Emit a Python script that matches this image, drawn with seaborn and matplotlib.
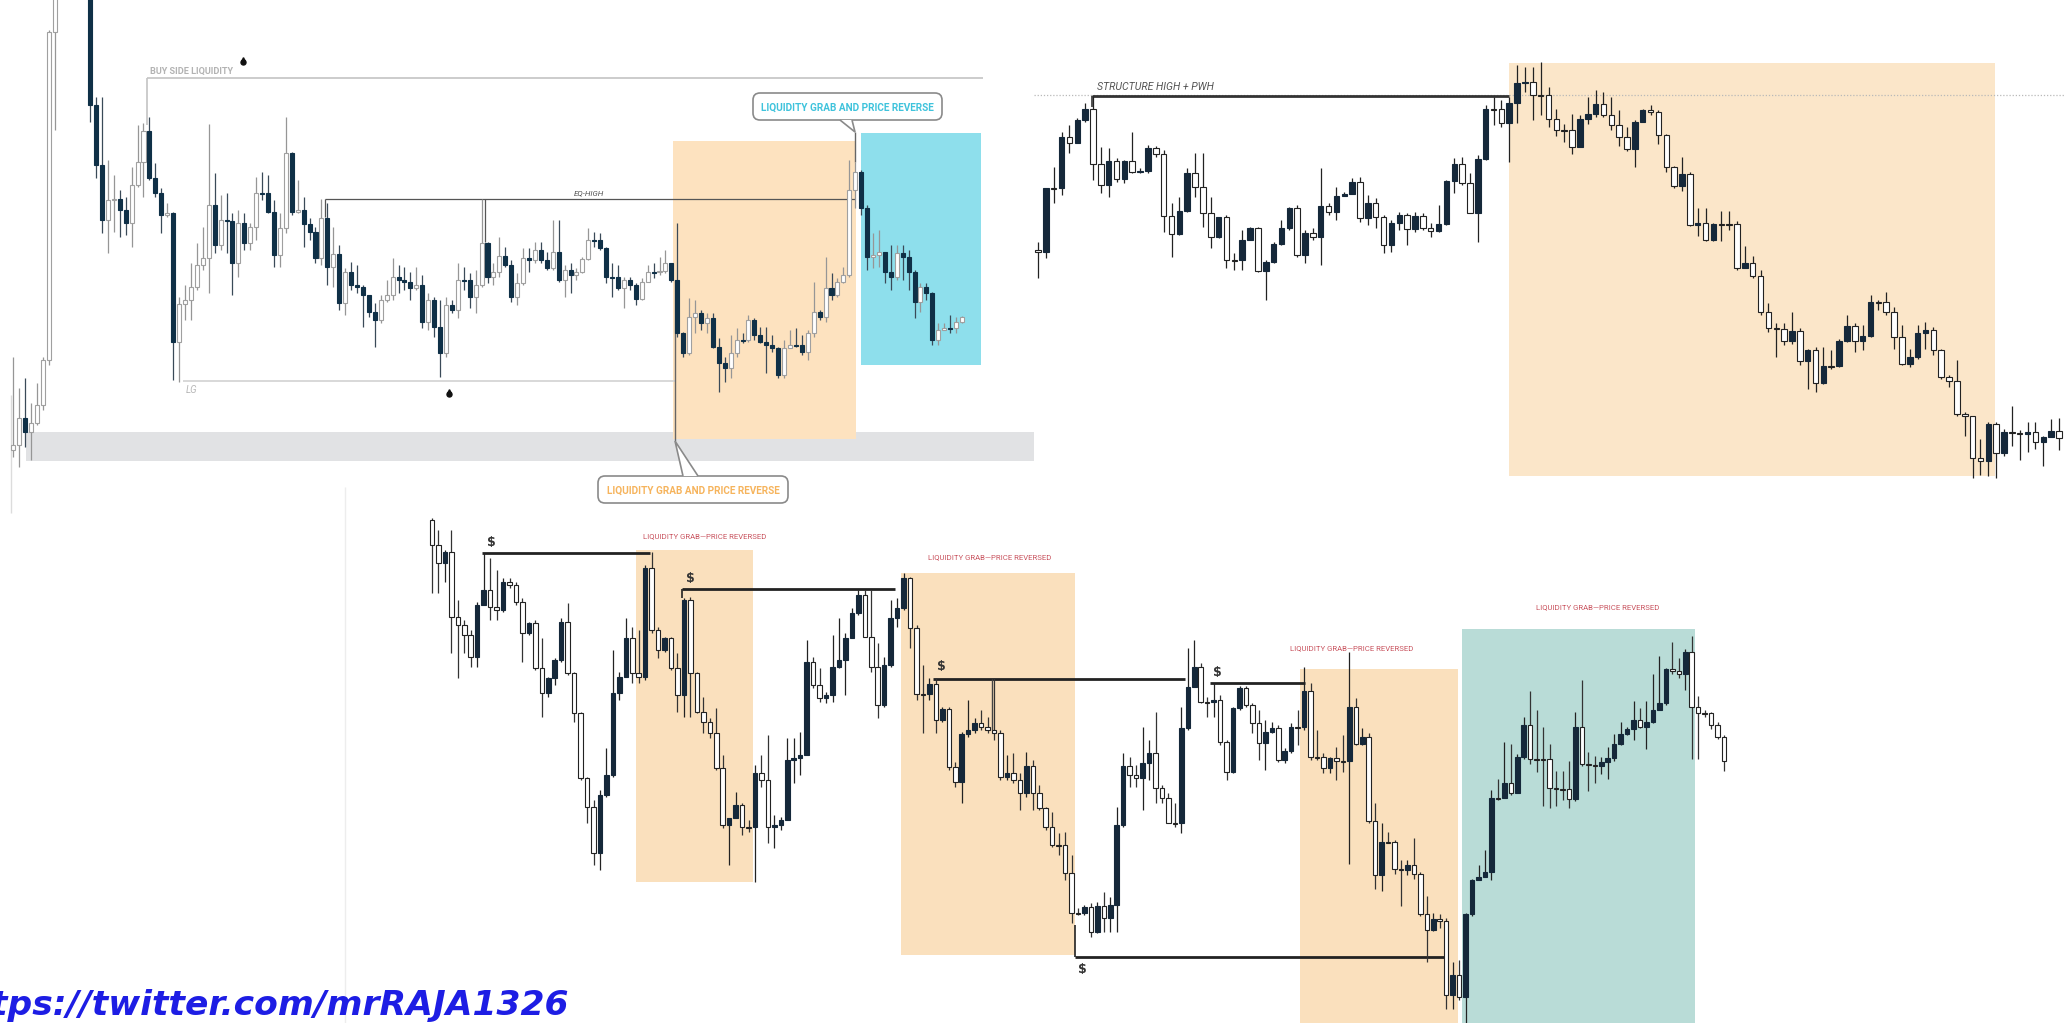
# ---------------------------------------------------------------------------
# Import Required Modules
# ---------------------------------------------------------------------------

import numpy as np
import seaborn as sns
import matplotlib.pyplot as plt
from matplotlib.patches import Rectangle, FancyBboxPatch, Polygon


# ---------------------------------------------------------------------------
# Data : candle closes / highs / lows (price read in picture units, y down)
# ---------------------------------------------------------------------------

# Panel 1 (top left, TradingView style)
p1_first_open = 450
p1_close = [445, 418, 432, 423, 405, 360, 32, -15, -60, -100,
            -80, -40, -30, 105, 165, 220, 200, 199, 210, 223,
            185, 162, 131, 178, 193, 215, 213, 342, 304, 300,
            287, 265, 258, 205, 245, 220, 221, 263, 223, 243,
            227, 193, 193, 212, 255, 228, 153, 212, 210, 224,
            232, 258, 218, 267, 254, 303, 272, 285, 287, 295,
            312, 320, 300, 295, 277, 280, 282, 288, 285, 322,
            300, 327, 353, 305, 310, 280, 280, 297, 285, 243,
            277, 272, 256, 265, 297, 283, 258, 260, 250, 260,
            268, 252, 280, 270, 275, 272, 259, 240, 240, 248,
            277, 277, 288, 280, 285, 299, 282, 272, 272, 271,
            263, 280, 333, 353, 317, 313, 323, 318, 347, 363,
            368, 353, 340, 340, 320, 335, 342, 345, 348, 375,
            348, 345, 345, 352, 333, 312, 317, 288, 295, 282,
            275, 190, 172, 208, 257, 255, 252, 272, 277, 253,
            257, 272, 302, 287, 293, 340, 330, 328, 328, 322,
            317]
p1_high = [357, 388, 378, 403, 383, 357, 30, -40, -80, -120,
           -100, -60, -50, -40, 97, 97, 160, 175, 190, 197,
           167, 125, 123, 117, 163, 188, 203, 212, 297, 285,
           263, 243, 227, 124, 173, 195, 193, 213, 210, 213,
           223, 177, 172, 175, 200, 213, 117, 152, 180, 197,
           218, 227, 199, 203, 227, 245, 268, 262, 265, 285,
           295, 303, 295, 280, 258, 265, 267, 272, 267, 275,
           293, 297, 300, 297, 300, 263, 267, 273, 270, 199,
           242, 263, 237, 247, 260, 273, 248, 248, 242, 242,
           252, 220, 220, 265, 263, 268, 257, 228, 232, 233,
           247, 263, 265, 277, 277, 283, 278, 265, 263, 257,
           250, 263, 223, 332, 298, 300, 310, 313, 313, 338,
           357, 335, 328, 333, 315, 318, 327, 327, 335, 347,
           340, 330, 328, 335, 330, 282, 310, 257, 273, 278,
           267, 160, 162, 170, 205, 233, 230, 252, 245, 245,
           245, 250, 270, 283, 283, 292, 323, 323, 315, 317,
           316]
p1_low = [457, 467, 447, 460, 425, 410, 365, 130, -40, -80,
          -60, -20, -10, 122, 178, 233, 253, 232, 237, 235,
          247, 187, 197, 180, 197, 233, 217, 380, 382, 320,
          320, 290, 270, 293, 253, 250, 253, 295, 277, 250,
          250, 240, 200, 213, 267, 267, 233, 215, 213, 247,
          240, 263, 265, 285, 287, 310, 315, 290, 293, 327,
          317, 347, 323, 302, 300, 293, 290, 300, 290, 328,
          330, 337, 377, 357, 313, 318, 290, 308, 313, 287,
          283, 285, 277, 267, 302, 305, 285, 272, 263, 263,
          270, 270, 282, 297, 293, 280, 273, 260, 247, 250,
          283, 297, 290, 308, 290, 305, 300, 282, 278, 275,
          273, 282, 337, 357, 355, 333, 330, 333, 348, 392,
          382, 378, 357, 343, 342, 340, 343, 373, 352, 378,
          378, 348, 347, 355, 360, 337, 320, 322, 300, 297,
          283, 277, 208, 215, 270, 268, 267, 283, 290, 280,
          280, 290, 318, 312, 300, 345, 345, 330, 333, 333,
          323]

# Panel 2 (top right, structure high + PWH)
p2_first_open = 250
p2_close = [252, 188, 188, 137, 143, 120, 109, 164, 185, 161,
            179, 161, 172, 171, 148, 154, 216, 234, 211, 173,
            187, 213, 237, 217, 260, 260, 240, 228, 271, 262,
            244, 228, 208, 255, 233, 237, 206, 212, 196, 194,
            182, 218, 203, 217, 245, 223, 215, 229, 216, 228,
            231, 224, 181, 164, 183, 213, 159, 109, 109, 123,
            103, 83, 82, 95, 95, 119, 130, 130, 147, 119,
            114, 104, 115, 125, 137, 149, 122, 110, 112, 135,
            167, 186, 174, 225, 223, 240, 224, 224, 224, 268,
            263, 276, 312, 328, 329, 341, 331, 361, 350, 383,
            366, 366, 341, 326, 341, 336, 302, 302, 312, 337,
            364, 357, 333, 330, 350, 377, 381, 414, 416, 458,
            461, 424, 453, 432, 433, 434, 432, 442, 437, 431,
            438]
p2_high = [242, 188, 167, 132, 125, 118, 103, 96, 147, 148,
           158, 160, 132, 168, 145, 146, 150, 203, 197, 168,
           153, 153, 197, 217, 215, 253, 230, 227, 227, 260,
           242, 220, 207, 205, 230, 228, 168, 203, 187, 192,
           178, 177, 195, 198, 215, 220, 212, 213, 212, 213,
           223, 205, 180, 158, 157, 173, 155, 105, 97, 100,
           97, 65, 67, 67, 62, 87, 109, 124, 114, 115,
           97, 90, 92, 97, 110, 127, 120, 109, 105, 110,
           134, 166, 157, 172, 208, 208, 223, 211, 211, 221,
           246, 256, 270, 303, 323, 323, 312, 328, 349, 347,
           347, 350, 339, 315, 323, 325, 295, 300, 292, 307,
           325, 349, 325, 322, 327, 349, 375, 360, 412, 416,
           439, 422, 422, 429, 406, 430, 422, 422, 436, 419,
           418]
p2_low = [278, 258, 203, 195, 153, 143, 122, 180, 193, 197,
          182, 183, 173, 173, 173, 157, 232, 257, 235, 212,
          197, 227, 248, 238, 268, 270, 270, 240, 272, 300,
          263, 245, 230, 257, 263, 240, 265, 215, 220, 195,
          192, 222, 225, 228, 253, 252, 230, 245, 232, 230,
          237, 232, 225, 193, 185, 213, 242, 160, 125, 127,
          162, 123, 92, 120, 115, 127, 136, 142, 154, 147,
          124, 117, 117, 130, 146, 151, 167, 122, 115, 144,
          172, 188, 191, 226, 236, 241, 241, 241, 230, 270,
          268, 278, 315, 332, 357, 345, 344, 365, 389, 392,
          384, 369, 367, 342, 352, 350, 337, 310, 315, 349,
          365, 367, 359, 349, 355, 379, 387, 416, 436, 478,
          475, 476, 478, 456, 446, 460, 452, 449, 466, 434,
          450]

# Panel 3 (bottom, liquidity grabs)
p3_first_open = 520
p3_close = [545, 563, 552, 617, 625, 635, 657, 605, 590, 607,
            610, 582, 585, 602, 633, 623, 668, 693, 678, 660,
            622, 673, 713, 778, 807, 853, 795, 775, 693, 677,
            638, 673, 677, 568, 630, 650, 638, 668, 695, 600,
            673, 712, 722, 733, 768, 825, 818, 805, 827, 827,
            773, 780, 827, 825, 820, 760, 758, 755, 662, 685,
            698, 695, 667, 660, 638, 613, 595, 637, 667, 705,
            665, 618, 608, 578, 628, 694, 694, 684, 720, 709,
            767, 782, 734, 730, 723, 727, 730, 733, 777, 773,
            780, 793, 766, 793, 808, 827, 845, 845, 873, 913,
            913, 907, 932, 906, 918, 905, 825, 766, 775, 778,
            763, 753, 788, 798, 823, 823, 728, 687, 667, 702,
            702, 700, 742, 772, 708, 688, 705, 723, 743, 732,
            728, 760, 751, 727, 727, 691, 757, 757, 768, 758,
            761, 761, 707, 744, 737, 821, 875, 842, 842, 869,
            870, 865, 874, 914, 930, 919, 921, 995, 975, 997,
            914, 880, 877, 872, 798, 798, 783, 793, 757, 725,
            759, 759, 759, 788, 789, 789, 799, 727, 764, 765,
            766, 762, 758, 744, 734, 729, 720, 727, 722, 710,
            703, 669, 671, 674, 652, 707, 713, 713, 725, 737,
            761]
p3_high = [518, 530, 550, 530, 600, 620, 630, 602, 553, 558,
           570, 578, 578, 582, 598, 622, 620, 638, 677, 658,
           618, 603, 672, 712, 777, 800, 790, 748, 650, 672,
           618, 627, 630, 565, 552, 627, 637, 637, 653, 598,
           597, 672, 697, 718, 708, 755, 818, 792, 803, 820,
           765, 755, 735, 815, 817, 738, 738, 732, 640, 657,
           668, 692, 635, 618, 633, 608, 590, 590, 590, 643,
           657, 600, 598, 573, 577, 625, 665, 678, 678, 707,
           707, 762, 732, 700, 718, 710, 717, 678, 730, 755,
           753, 773, 752, 760, 785, 807, 812, 833, 832, 855,
           908, 905, 903, 902, 892, 897, 807, 753, 757, 765,
           727, 740, 712, 785, 793, 803, 707, 648, 640, 663,
           697, 683, 695, 740, 707, 686, 686, 703, 710, 720,
           722, 725, 748, 723, 710, 667, 683, 730, 753, 757,
           747, 735, 652, 698, 728, 733, 803, 823, 832, 840,
           860, 860, 838, 872, 896, 913, 914, 918, 962, 960,
           913, 879, 865, 850, 790, 779, 742, 744, 754, 717,
           691, 710, 727, 744, 771, 771, 761, 712, 680, 752,
           756, 757, 747, 734, 722, 727, 701, 708, 701, 674,
           656, 668, 642, 658, 649, 636, 696, 710, 712, 722,
           735]
p3_low = [593, 593, 582, 653, 678, 653, 667, 667, 605, 620,
          620, 612, 588, 605, 662, 635, 670, 717, 697, 685,
          662, 675, 722, 780, 823, 865, 870, 797, 777, 700,
          677, 683, 683, 680, 633, 658, 652, 670, 712, 717,
          717, 713, 733, 738, 770, 828, 865, 818, 835, 832,
          882, 787, 843, 848, 830, 820, 783, 775, 755, 688,
          702, 703, 702, 668, 695, 638, 615, 637, 672, 718,
          707, 667, 627, 610, 648, 700, 733, 700, 733, 722,
          770, 787, 803, 737, 733, 730, 733, 740, 780, 780,
          783, 810, 797, 810, 810, 830, 847, 855, 880, 923,
          915, 915, 937, 933, 932, 932, 932, 827, 787, 787,
          810, 780, 803, 803, 823, 827, 833, 730, 687, 703,
          717, 717, 745, 780, 773, 710, 707, 733, 760, 770,
          733, 762, 763, 753, 745, 730, 760, 760, 773, 773,
          780, 772, 864, 745, 745, 823, 889, 891, 843, 874,
          906, 875, 879, 916, 962, 931, 928, 1009, 1009, 1000,
          1029, 916, 879, 874, 880, 800, 793, 795, 793, 759,
          764, 772, 806, 808, 806, 800, 808, 801, 766, 791,
          783, 774, 779, 761, 745, 735, 740, 728, 749, 723,
          705, 705, 674, 678, 690, 759, 759, 717, 729, 739,
          771]

# Text labels
label_bsl = "BUY SIDE LIQUIDITY"
label_eq = "EQ-HIGH"
label_lg = "LG"
label_grab = "LIQUIDITY GRAB AND PRICE REVERSE"
label_struct = "STRUCTURE HIGH + PWH"
label_reversed = "LIQUIDITY GRAB\u2014PRICE REVERSED"
label_url = "https://twitter.com/mrRAJA1326"


# ---------------------------------------------------------------------------
# Function: [ Draw Candles ]
# ---------------------------------------------------------------------------

def draw_candles(ax, x_first, x_last, first_open, closes, highs, lows,
                 rise_fill, rise_edge, fall_fill, fall_edge, rise_wick, fall_wick,
                 width_frac=0.68):

    closes = np.array(closes, dtype=float)
    opens = np.concatenate([[first_open], closes[:-1]])
    xs = np.linspace(x_first, x_last, len(closes))
    step = xs[1] - xs[0]

    highs = np.minimum(np.array(highs, dtype=float), np.minimum(opens, closes))
    lows = np.maximum(np.array(lows, dtype=float), np.maximum(opens, closes))

    rising = closes < opens          # y grows downward on the picture

    wick_cols = np.where(rising, rise_wick, fall_wick)
    ax.vlines(xs, highs, lows, colors=wick_cols, linewidth=0.9, zorder=3)

    bottom = np.minimum(opens, closes)
    height = np.maximum(np.abs(opens - closes), 1.3)

    fills = np.where(rising, rise_fill, fall_fill)
    edges = np.where(rising, rise_edge, fall_edge)

    ax.bar(xs, height, bottom=bottom, width=step * width_frac, color=fills,
           edgecolor=edges, linewidth=0.8, zorder=4, align="center")


def droplet(ax, x, y):

    ax.plot([x], [y], marker="o", ms=3.6, color="#111111", zorder=6)
    ax.plot([x], [y - 3], marker="^", ms=2.6, color="#111111", zorder=6)


def callout(ax, x0, y0, x1, y1, text, color, tip, base):

    box = FancyBboxPatch((x0, y0), x1 - x0, y1 - y0,
                         boxstyle="round,pad=0,rounding_size=7",
                         facecolor="white", edgecolor="#8a8a8a", linewidth=1.2, zorder=7)
    ax.add_patch(box)

    tri = Polygon([base[0], tip, base[1]], closed=False, facecolor="white",
                  edgecolor="#8a8a8a", linewidth=1.2, zorder=7)
    ax.add_patch(tri)

    ax.text((x0 + x1) / 2, (y0 + y1) / 2 + 1, text, color=color, fontsize=7.2,
            fontweight="bold", ha="center", va="center", zorder=8)


# ---------------------------------------------------------------------------
# Main Plot
# ---------------------------------------------------------------------------

sns.set_theme(style="white")
plt.rcParams["font.family"] = ["Roboto", "DejaVu Sans"]

fig = plt.figure(figsize=(20.65, 10.23), dpi=100)
ax = fig.add_axes([0, 0, 1, 1])
ax.set_xlim(0, 2065)
ax.set_ylim(1023, 0)
ax.axis("off")


# Background zones :
# ------------------

zones = [
    (26, 432, 1034, 461, "#e1e2e4"),
    (673, 141, 856, 439, "#fde2bf"),
    (861, 133, 981, 365, "#8edfec"),
    (1509, 63, 1995, 476, "#fbe6c9"),
    (636, 550, 753, 882, "#fae0bd"),
    (901, 573, 1075, 955, "#fae0bd"),
    (1300, 669, 1458, 1023, "#fae0bd"),
    (1462, 629, 1695, 1023, "#b9dcd7"),
]

for x0, y0, x1, y1, col in zones:
    ax.add_patch(Rectangle((x0, y0), x1 - x0, y1 - y0, facecolor=col,
                           edgecolor="none", zorder=1))

# faint separators
ax.vlines(345, 487, 1023, color="#ededed", linewidth=1.0, zorder=0)
ax.vlines(11, 395, 513, color="#dcdcdc", linewidth=1.0, zorder=0)


# Panel 1 :
# ---------

ax.hlines(78, 147, 983, color="#c4c4c4", linewidth=1.2, zorder=2)
ax.vlines(147, 78, 125, color="#c4c4c4", linewidth=1.2, zorder=2)
ax.hlines(381, 183, 675, color="#d2d2d2", linewidth=1.2, zorder=2)
ax.hlines(199, 325, 855, color="#555555", linewidth=0.9, zorder=2)
ax.vlines([325, 485], 199, [217, 242], color="#555555", linewidth=0.9, zorder=2)
ax.vlines(675, 280, 441, color="#666666", linewidth=1.0, zorder=2)
ax.vlines(855, 132, 162, color="#666666", linewidth=1.0, zorder=2)

draw_candles(ax, 13, 962, p1_first_open, p1_close, p1_high, p1_low,
             rise_fill="white", rise_edge="#a0a0a0",
             fall_fill="#0f3047", fall_edge="#0f3047",
             rise_wick="#969696", fall_wick="#3a4a58")

ax.text(150, 74, label_bsl, color="#b3b3b3", fontsize=6.6, fontweight="bold",
        ha="left", va="baseline", zorder=6)
droplet(ax, 243, 62)
ax.text(589, 195, label_eq, color="#555555", fontsize=5.8, style="italic",
        ha="center", va="baseline", zorder=6)
ax.text(186, 393, label_lg, color="#b8b8b8", fontsize=7, style="italic",
        ha="left", va="baseline", zorder=6)
droplet(ax, 449, 394)

callout(ax, 753, 93, 942, 120, label_grab, "#3fc3dc",
        tip=(855, 132), base=[(840, 120), (852, 120)])
callout(ax, 598, 476, 788, 503, label_grab, "#f6b45d",
        tip=(675, 441), base=[(683, 476), (698, 476)])


# Panel 2 :
# ---------

ax.hlines(95, 1034, 2065, color="#b9b9b9", linewidth=0.9, linestyle=(0, (1, 1.5)), zorder=2)
ax.hlines(96, 1092, 1509, color="#333333", linewidth=2.0, zorder=3)
ax.vlines(1092, 96, 107, color="#333333", linewidth=1.2, zorder=3)

draw_candles(ax, 1038, 2059, p2_first_open, p2_close, p2_high, p2_low,
             rise_fill="#15283a", rise_edge="#15283a",
             fall_fill="white", fall_edge="#222222",
             rise_wick="#222222", fall_wick="#222222", width_frac=0.7)

ax.text(1097, 90, label_struct, color="#555555", fontsize=7.6, style="italic",
        ha="left", va="baseline", zorder=6)


# Panel 3 :
# ---------

levels = [
    (553, 482, 650, 491, 546),
    (589, 682, 895, 690, 582),
    (679, 933, 1185, 941, 670),
    (683, 1210, 1305, 1217, 676),
    (957, 1075, 1447, 1082, 973),
]

for y, x0, x1, tx, ty in levels:
    ax.hlines(y, x0, x1, color="#222222", linewidth=2.0, zorder=3)
    ax.text(tx, ty, "$", color="#333333", fontsize=9, fontweight="bold",
            ha="center", va="baseline", zorder=6, family="DejaVu Sans")

ax.vlines(682, 589, 598, color="#222222", linewidth=1.2, zorder=3)
ax.vlines(992, 679, 730, color="#444444", linewidth=1.0, zorder=3)
ax.vlines(1075, 925, 957, color="#222222", linewidth=1.2, zorder=3)
ax.vlines(1447, 957, 962, color="#222222", linewidth=1.2, zorder=3)

draw_candles(ax, 432, 1724, p3_first_open, p3_close, p3_high, p3_low,
             rise_fill="#15283a", rise_edge="#15283a",
             fall_fill="white", fall_edge="#222222",
             rise_wick="#222222", fall_wick="#333333", width_frac=0.7)

for cx, cy in [(705, 538), (990, 559), (1352, 650), (1598, 609)]:
    ax.text(cx, cy, label_reversed, color="#c9545f", fontsize=5.6,
            ha="center", va="baseline", zorder=6)


# Watermark :
# -----------

ax.text(569, 1015, label_url, color="#1d1de4", fontsize=24.8, fontweight="bold",
        style="oblique", ha="right", va="baseline", zorder=9,
        family="DejaVu Sans")


fig.savefig("out.png", dpi=100, facecolor="white")
